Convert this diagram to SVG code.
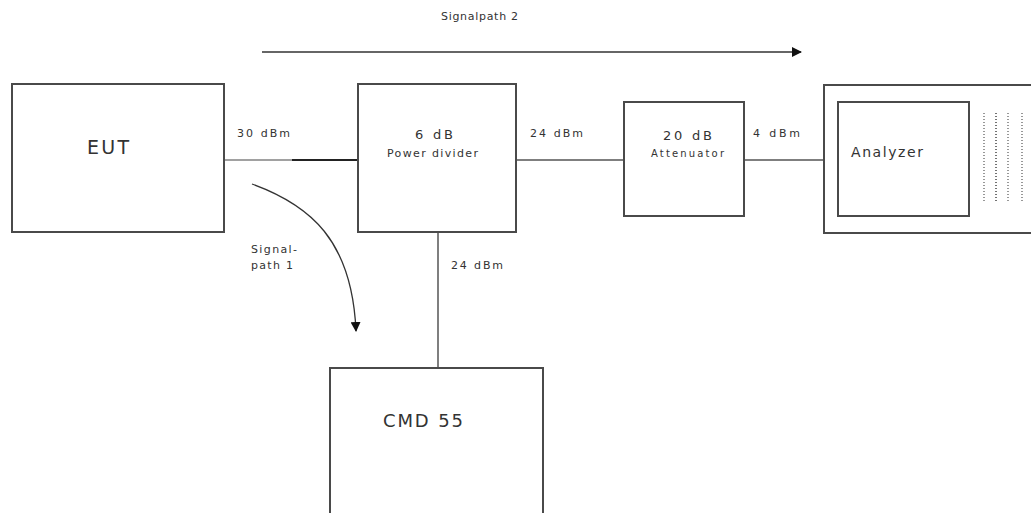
<svg xmlns="http://www.w3.org/2000/svg" width="1031" height="513" viewBox="0 0 1031 513">
<style>
.box{fill:#fff;stroke:#4a4a4a;stroke-width:2}
.ln{stroke:#555;stroke-width:1.5;fill:none}
.t{font-family:"DejaVu Sans",sans-serif;fill:#333}
.s{font-size:11px}
.dots{stroke:#777;stroke-width:1.5;stroke-dasharray:1 2}
</style>
<defs>
<marker id="ah" markerWidth="10" markerHeight="10" refX="9" refY="5" orient="auto" markerUnits="userSpaceOnUse">
<path d="M0,0 L10,5 L0,10 z" fill="#111"/>
</marker>
</defs>
<rect width="1031" height="513" fill="#fff"/>
<g id="connectors">
<line class="ln" x1="224" y1="160" x2="292" y2="160" style="stroke:#444;stroke-width:1.2"/>
<line class="ln" x1="292" y1="160" x2="358" y2="160" style="stroke:#222;stroke-width:2"/>
<line class="ln" x1="516" y1="160" x2="624" y2="160"/>
<line class="ln" x1="744" y1="160" x2="824" y2="160"/>
<line class="ln" x1="438" y1="232" x2="438" y2="368"/>
<line class="ln" x1="262" y1="52" x2="801" y2="52" style="stroke:#333" marker-end="url(#ah)"/>
<path class="ln" d="M252,184 C310,205 352,240 356,331" style="stroke:#333;stroke-width:1.3" marker-end="url(#ah)"/>
</g>
<g id="labels">
<text class="t s" x="237" y="137" textLength="53" lengthAdjust="spacing">30 dBm</text>
<text class="t s" x="530" y="137" textLength="53" lengthAdjust="spacing">24 dBm</text>
<text class="t s" x="753" y="137" textLength="47" lengthAdjust="spacing">4 dBm</text>
<text class="t s" x="451" y="269" textLength="52" lengthAdjust="spacing">24 dBm</text>
<text class="t s" x="251" y="253" textLength="46" lengthAdjust="spacing">Signal-</text>
<text class="t s" x="251" y="269" textLength="42" lengthAdjust="spacing">path 1</text>
<text class="t s" x="441" y="20" textLength="77" lengthAdjust="spacing">Signalpath 2</text>
</g>
<g id="eut">
<rect class="box" x="12" y="84" width="212" height="148"/>
<text class="t" x="87" y="154" font-size="19" textLength="42" lengthAdjust="spacing">EUT</text>
</g>
<g id="power-divider">
<rect class="box" x="358" y="84" width="158" height="148"/>
<text class="t" x="415" y="139" font-size="13" textLength="38" lengthAdjust="spacing">6 dB</text>
<text class="t s" x="387" y="157" textLength="91" lengthAdjust="spacing">Power divider</text>
</g>
<g id="attenuator">
<rect class="box" x="624" y="102" width="120" height="114"/>
<text class="t" x="663" y="140" font-size="13" textLength="49" lengthAdjust="spacing">20 dB</text>
<text class="t" x="651" y="157" font-size="10" textLength="73" lengthAdjust="spacing">Attenuator</text>
</g>
<g id="analyzer">
<rect class="box" x="824" y="85" width="215" height="148"/>
<rect class="box" x="838" y="102" width="131" height="114"/>
<text class="t" x="851" y="157" font-size="14" textLength="72" lengthAdjust="spacing">Analyzer</text>
<line class="dots" x1="984" y1="113" x2="984" y2="203"/>
<line class="dots" x1="996" y1="113" x2="996" y2="203" style="stroke:#444"/>
<line class="dots" x1="1008" y1="113" x2="1008" y2="203"/>
<line class="dots" x1="1022" y1="113" x2="1022" y2="203"/>
</g>
<g id="cmd55">
<rect class="box" x="330" y="368" width="213" height="160"/>
<text class="t" x="383" y="427" font-size="18" textLength="80" lengthAdjust="spacing">CMD 55</text>
</g>
</svg>
